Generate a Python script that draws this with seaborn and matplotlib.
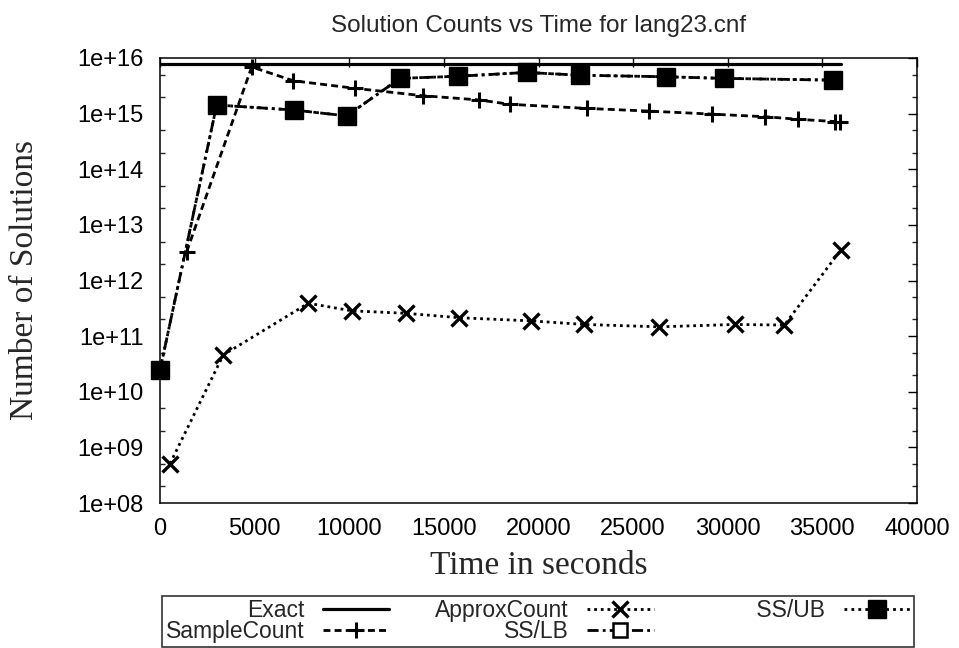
import numpy as np
import matplotlib
matplotlib.use("Agg")
import matplotlib.pyplot as plt
from matplotlib.ticker import FixedLocator, FuncFormatter, LogLocator, NullFormatter
import seaborn as sns

# =============================
# Donnees
# =============================
exact_t = [0, 36000]
exact = [7.7e15, 7.7e15]

sample_t = [1410, 4845, 7045, 10300, 13880, 16870, 18500, 22580, 25860, 29150, 31970, 33730, 35670, 35940]
sample = [3.3e12, 6.9e15, 3.9e15, 2.85e15, 2.1e15, 1.76e15, 1.47e15, 1.24e15, 1.11e15, 9.8e14, 8.8e14, 7.9e14, 7.2e14, 7.2e14]

approx_t = [528, 3345, 7840, 10130, 13000, 15815, 19600, 22420, 26380, 30380, 32990, 35990]
approx = [5.1e8, 4.6e10, 3.9e11, 2.85e11, 2.57e11, 2.14e11, 1.88e11, 1.62e11, 1.47e11, 1.62e11, 1.58e11, 3.6e12]

ss_t = [0, 2995, 7080, 9865, 12680, 15760, 19375, 22190, 26740, 29800, 35580]
ss_lb = [2.45e10, 1.43e15, 1.16e15, 9.1e14, 4.3e15, 4.7e15, 5.5e15, 4.9e15, 4.6e15, 4.3e15, 4.0e15]
ss_ub = [2.45e10, 1.43e15, 1.16e15, 9.1e14, 4.3e15, 4.7e15, 5.5e15, 4.9e15, 4.6e15, 4.3e15, 4.0e15]

labels = ["Exact", "SampleCount", "ApproxCount", "SS/LB", "         SS/UB"]
x_ticks = [0, 5000, 10000, 15000, 20000, 25000, 30000, 35000, 40000]

# =============================
# Style
# =============================
sns.set_style("white")
plt.rcParams["font.family"] = ["Liberation Sans", "DejaVu Sans"]
plt.rcParams["axes.linewidth"] = 1.1

fig = plt.figure(figsize=(9.59, 6.48), dpi=100)
ax = fig.add_axes([160 / 959, 1 - 503 / 648, 757 / 959, 445 / 648])

common = dict(ax=ax, color="black", estimator=None, sort=False, errorbar=None)

handles = []
sns.lineplot(x=exact_t, y=exact, linestyle="-", linewidth=2.3, **common)
handles.append(ax.lines[-1])

sns.lineplot(x=sample_t, y=sample, linestyle=(0, (2.5, 1.5)), linewidth=2.0,
             marker="+", markersize=11, markeredgewidth=2.2,
             markeredgecolor="black", **common)
handles.append(ax.lines[-1])

sns.lineplot(x=approx_t, y=approx, linestyle=(0, (1, 1.4)), linewidth=2.0,
             marker="x", markersize=12, markeredgewidth=2.4,
             markeredgecolor="black", **common)
handles.append(ax.lines[-1])

sns.lineplot(x=ss_t, y=ss_lb, linestyle=(0, (4, 1.5, 1, 1.5)), linewidth=2.0,
             marker="s", markersize=10, markeredgewidth=1.8,
             markerfacecolor="white", markeredgecolor="black", clip_on=False, **common)
handles.append(ax.lines[-1])

sns.lineplot(x=ss_t, y=ss_ub, linestyle=(0, (1, 1.5)), linewidth=2.0,
             marker="s", markersize=13, markeredgewidth=1,
             markerfacecolor="black", markeredgecolor="black", clip_on=False, **common)
handles.append(ax.lines[-1])

# =============================
# Axes
# =============================
ax.set_yscale("log")
ax.set_ylim(1e8, 1e16)
ax.set_xlim(0, 40000)
ax.xaxis.set_major_locator(FixedLocator(x_ticks))
ax.yaxis.set_major_locator(LogLocator(base=10, numticks=20))
ax.yaxis.set_minor_locator(LogLocator(base=10, subs=[2.0, 5.0], numticks=20))
ax.yaxis.set_minor_formatter(NullFormatter())
ax.yaxis.set_major_formatter(FuncFormatter(lambda v, p: f"1e+{int(round(np.log10(v))):02d}"))

for s in ax.spines.values():
    s.set_color("black")
    s.set_visible(True)

ax.tick_params(axis="both", which="major", direction="in", length=6.5, width=1,
               top=True, right=True, labelsize=17, colors="black")
ax.tick_params(axis="y", which="major", pad=12)
ax.tick_params(axis="x", which="major", pad=11)
ax.tick_params(axis="y", which="minor", direction="in", length=3.5, width=1,
               left=True, right=True)

ax.set_xlabel("Time in seconds", family=["Liberation Serif", "DejaVu Serif"], fontsize=24)
ax.set_ylabel("Number of Solutions", family=["Liberation Serif", "DejaVu Serif"], fontsize=24)
ax.xaxis.set_label_coords(0.5, (503 - 551) / 445)
ax.yaxis.set_label_coords((40 - 160) / 757, 0.5)

ax.set_title("Solution Counts vs Time for lang23.cnf", fontsize=17.5, pad=19)

leg = fig.legend(handles, labels, ncol=3, markerfirst=False,
                 loc="upper center", bbox_to_anchor=(538 / 959, 1 - 596 / 648),
                 fontsize=16.5, handlelength=2.9, handletextpad=0.8,
                 columnspacing=2.0, labelspacing=-0.1, borderpad=0.15,
                 borderaxespad=0, fancybox=False, frameon=True, numpoints=1)
leg.get_frame().set_edgecolor("black")
leg.get_frame().set_linewidth(1.2)

fig.savefig("out.png", dpi=100)
